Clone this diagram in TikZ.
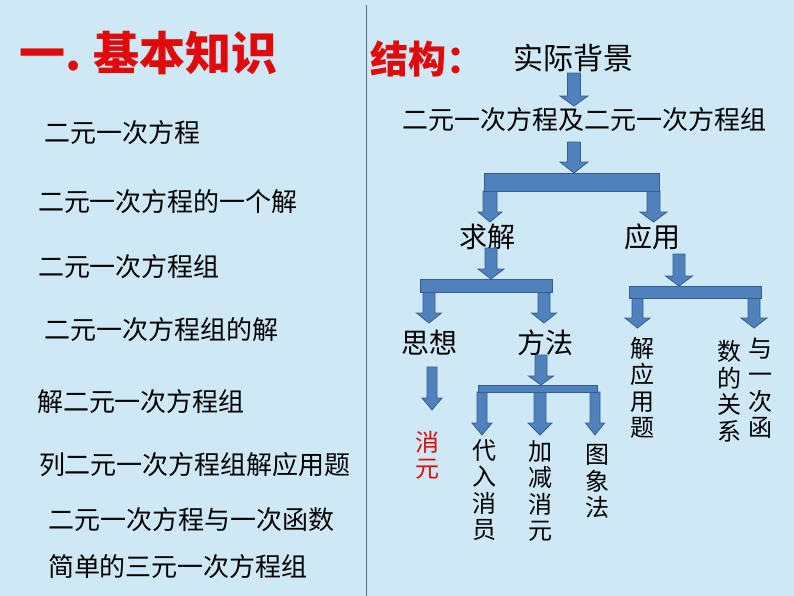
\documentclass[tikz,border=0pt]{standalone}
\usepackage{fontspec}
\setmainfont{Noto Sans CJK SC}
\definecolor{bgblue}{RGB}{206,233,245}
\definecolor{arrfill}{RGB}{79,129,189}
\definecolor{arrline}{RGB}{56,93,138}
\definecolor{titlered}{RGB}{225,10,10}
\definecolor{sepgray}{RGB}{95,110,120}
\tikzset{
  arrowstyle/.style={fill=arrfill,draw=arrline,line width=0.6pt},
  listtext/.style={inner sep=0pt,font=\fontsize{19.5}{20}\selectfont},
  treetext/.style={inner sep=0pt,font=\fontsize{21}{22}\selectfont},
  vtext/.style={inner sep=0pt,align=center,font=\fontsize{18}{19.9}\selectfont},
  barbox/.style={arrowstyle}
}
% block arrow: x, ytop, ytip, shaft half width, head half width, head length
\newcommand{\barrow}[6]{%
  \filldraw[arrowstyle] (#1-#4,#2) -- (#1+#4,#2) -- (#1+#4,#3-#6) -- (#1+#5,#3-#6)
    -- (#1,#3) -- (#1-#5,#3-#6) -- (#1-#4,#3-#6) -- cycle;}
\begin{document}
\begin{tikzpicture}[x=0.75pt,y=-0.75pt]
\useasboundingbox (0,0) rectangle (794,596);
\fill[bgblue] (0,0) rectangle (794,596);
% separator
\draw[sepgray,line width=1.2pt] (366.5,5) -- (366.5,596);

% title
\node[inner sep=0pt,anchor=west,text=titlered,font=\fontsize{34.5}{36}\selectfont\bfseries] (title) at (19,53) {一.\hspace{9pt}基本知识};
% left list
\node[listtext] (l1) at (122.5,133) {二元一次方程};
\node[listtext] (l2) at (168,202) {二元一次方程的一个解};
\node[listtext] (l3) at (129,267) {二元一次方程组};
\node[listtext] (l4) at (161.5,330) {二元一次方程组的解};
\node[listtext] (l5) at (141,402) {解二元一次方程组};
\node[listtext] (l6) at (195,465) {列二元一次方程组解应用题};
\node[listtext] (l7) at (191.5,520) {二元一次方程与一次函数};
\node[listtext] (l8) at (178,567) {简单的三元一次方程组};

% right side
\node[inner sep=0pt,anchor=west,text=titlered,font=\fontsize{28.5}{30}\selectfont\bfseries] (jg) at (370,59) {结构：};
\node[inner sep=0pt,font=\fontsize{22.5}{23}\selectfont] (bg) at (573,58) {实际背景};
\node[inner sep=0pt,font=\fontsize{19.5}{20}\selectfont] (fc) at (584.5,120) {二元一次方程及二元一次方程组};
\node[treetext] (qj) at (487,237) {求解};
\node[treetext] (yy) at (652.5,237) {应用};
\node[treetext] (sx) at (429.5,343) {思想};
\node[treetext] (ff) at (545,343) {方法};
\node[vtext] (jyt) at (642,388) {解\\应\\用\\题};
\node[vtext] (sdgx) at (729,391) {数\\的\\关\\系};
\node[vtext] (yycih) at (760,388) {与\\一\\次\\函};
\node[vtext,text=titlered] (xy) at (427,455.5) {消\\元};
\node[vtext] (dr) at (484,490) {代\\入\\消\\员};
\node[vtext] (jj) at (540,491) {加\\减\\消\\元};
\node[vtext] (tx) at (597,481.5) {图\\象\\法};

% arrows
\barrow{574}{73}{106}{6.5}{14}{10}
\barrow{574}{142}{173}{6.5}{14}{11}
\barrow{490}{191}{222}{7}{12}{10}
\barrow{653.5}{191}{222}{6.5}{13.5}{10}
\filldraw[barbox] (484,173) rectangle (659,191);

\barrow{491}{248}{279}{6}{13}{10}
\barrow{429}{292}{323}{6}{12.5}{10}
\barrow{544}{292}{323}{6}{12.5}{10}
\filldraw[barbox] (420,279) rectangle (552,292);

\barrow{679}{254}{286}{6}{13.5}{10}
\barrow{637.5}{298}{328}{5.5}{12.5}{10}
\barrow{754}{298}{328}{6}{13}{10}
\filldraw[barbox] (629,286) rectangle (761,298);

\barrow{432}{367}{410}{5}{10}{12}

\barrow{541}{355}{385}{6}{12.5}{9}
\barrow{482}{392}{435}{5}{10}{12}
\barrow{540}{392}{435}{6}{12}{12}
\barrow{595}{392}{435}{5}{9.5}{12}
\filldraw[barbox] (478,385) rectangle (597,392);
\end{tikzpicture}
\end{document}
